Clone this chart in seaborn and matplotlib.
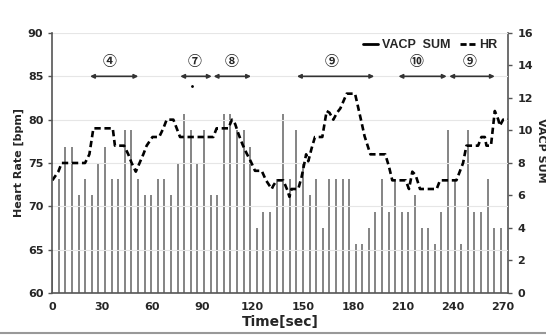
import numpy as np
import matplotlib
matplotlib.use('Agg')
import matplotlib.pyplot as plt
from matplotlib.lines import Line2D
import seaborn as sns

# VACP SUM, one bar every ~4 sec
vacp = [2, 7, 9, 9, 6, 7, 6, 8, 9, 7, 7, 10, 10, 7, 6, 6, 7, 7, 6, 8,
        11, 10, 8, 10, 6, 6, 11, 11, 10, 10, 9, 4, 5, 5, 7, 11, 7, 10, 8, 6,
        7, 4, 7, 7, 7, 7, 3, 3, 4, 5, 7, 5, 7, 5, 5, 6, 4, 4, 3, 5,
        10, 7, 3, 10, 5, 5, 7, 4, 4]
bar_step = 3.95

# heart rate, knee points of the trace
hr_t = [0, 3.6, 5.6, 19.6, 22.2, 24.6, 36.2, 37.5, 43, 45.5,
        47.5, 50, 54.5, 56.5, 60, 64, 66.5, 68.5, 72.5, 76.5,
        96.4, 98.4, 105.4, 107.6, 109.5, 111.4, 114, 116.4, 118.8, 121.4,
        125.4, 128, 131.4, 132.4, 134.4, 138.3, 140.7, 142, 143.2, 147.3,
        149.3, 151.3, 152, 153.3, 155.3, 157.3, 161.7, 164.3, 166, 168.3,
        170.5, 172.5, 176.3, 181.3, 185.3, 187, 190.5, 199.4, 201.6, 203.6,
        211.6, 213.6, 215.6, 217.6, 220.2, 230.2, 232.2, 242, 246, 248,
        255, 257, 259, 260, 262.7, 265, 267.1, 268, 270, 273]
hr = [73, 74, 75, 75, 76, 79, 79, 77, 77, 76,
      75, 74, 76, 77, 78, 78, 79, 80, 80, 78,
      78, 79, 79, 80, 79.5, 78.4, 77.1, 76.1, 75.2, 74.1,
      74.1, 73, 72, 72.4, 73, 73, 71.9, 71.1, 72, 72,
      73.4, 75.3, 76, 75.2, 76.7, 78, 78, 81, 80.8, 80,
      80.8, 81.3, 83, 83, 79.6, 78.1, 76, 76, 74.6, 73,
      73, 72, 74, 73.6, 72, 72, 73, 73, 75, 77,
      77, 78, 78, 77, 77, 81, 80, 79.3, 80, 80]

# phase annotations
phase_labels = ['④', '⑦', '⑧', '⑨', '⑩', '⑨']
phase_start = [22.6, 76.6, 96.6, 146.5, 207.3, 237.7]
phase_end = [51.5, 95.5, 119.0, 192.8, 236.2, 265.0]
phase_text_x = [34.5, 85.0, 107.5, 167.5, 218.0, 250.0]

sns.set_style('white')
plt.rcParams['font.family'] = ['DejaVu Sans']

fig = plt.figure(figsize=(5.46, 3.35), dpi=100)
ax = fig.add_axes([0.0958, 0.1254, 0.8349, 0.7761])
ax2 = ax.twinx()

bar_t = np.arange(len(vacp)) * bar_step
ax2.vlines(bar_t, 0, vacp, color='#707070', lw=1.2)
ax2.set_ylim(0, 16)
ax2.set_yticks(range(0, 17, 2))

ax.set_zorder(ax2.get_zorder() + 1)
ax.patch.set_visible(False)

sns.lineplot(x=hr_t, y=hr, ax=ax, color='black', lw=1.9, sort=False,
             linestyle=(0, (2.4, 1.4)))

ax.set_xlim(0, 273)
ax.set_ylim(60, 90)
ax.set_xticks(range(0, 271, 30))
ax.set_yticks(range(60, 91, 5))
ax.yaxis.grid(True, color='#e6e6e6', lw=0.8)

for a in (ax, ax2):
    for s in a.spines.values():
        s.set_visible(False)
ax.spines['left'].set_visible(True)
ax.spines['bottom'].set_visible(True)
ax2.spines['right'].set_visible(True)
for s in (ax.spines['left'], ax.spines['bottom'], ax2.spines['right']):
    s.set_color('#555555')
    s.set_linewidth(1.2)

ax.tick_params(axis='both', direction='out', length=3, width=1, color='#555555',
               labelsize=8)
ax2.tick_params(axis='y', direction='out', length=3, width=1, color='#555555',
                labelsize=8)
for lab in ax.get_xticklabels() + ax.get_yticklabels() + ax2.get_yticklabels():
    lab.set_fontweight('bold')

ax.set_xlabel('Time[sec]', fontsize=10, fontweight='bold', labelpad=2)
ax.set_ylabel('Heart Rate [bpm]', fontsize=8, fontweight='bold', labelpad=3)
ax2.set_ylabel('VACP SUM', fontsize=8, fontweight='bold', rotation=270,
               va='center')
ax2.yaxis.set_label_coords(1.073, 0.55)

# phase arrows
for lab, s, e, tx in zip(phase_labels, phase_start, phase_end, phase_text_x):
    ax.annotate('', xy=(s, 85), xytext=(e, 85),
                arrowprops=dict(arrowstyle='<|-|>', color='#333333', lw=1.2,
                                mutation_scale=6, shrinkA=0, shrinkB=0))
    ax.text(tx, 86.6, lab, ha='center', va='center', fontsize=10,
            fontweight='bold', family=['Noto Sans CJK JP', 'DejaVu Sans'])
ax.plot([83.5], [83.9], marker='o', ms=1, color='black')

handles = [Line2D([], [], color='black', lw=2),
           Line2D([], [], color='black', lw=2, linestyle=(0, (2.2, 1.0)))]
leg = ax.legend(handles, ['VACP  SUM', 'HR'], ncol=2, frameon=False,
                loc='upper right', bbox_to_anchor=(1.0, 1.02),
                handlelength=1.2, handletextpad=0.3, columnspacing=0.8,
                prop={'family': 'Liberation Sans', 'weight': 'bold', 'size': 9})

fig.add_artist(Line2D([0, 1], [0.006, 0.006], color='#999999', lw=1.5,
                      transform=fig.transFigure))

fig.savefig('out.png', dpi=100)
